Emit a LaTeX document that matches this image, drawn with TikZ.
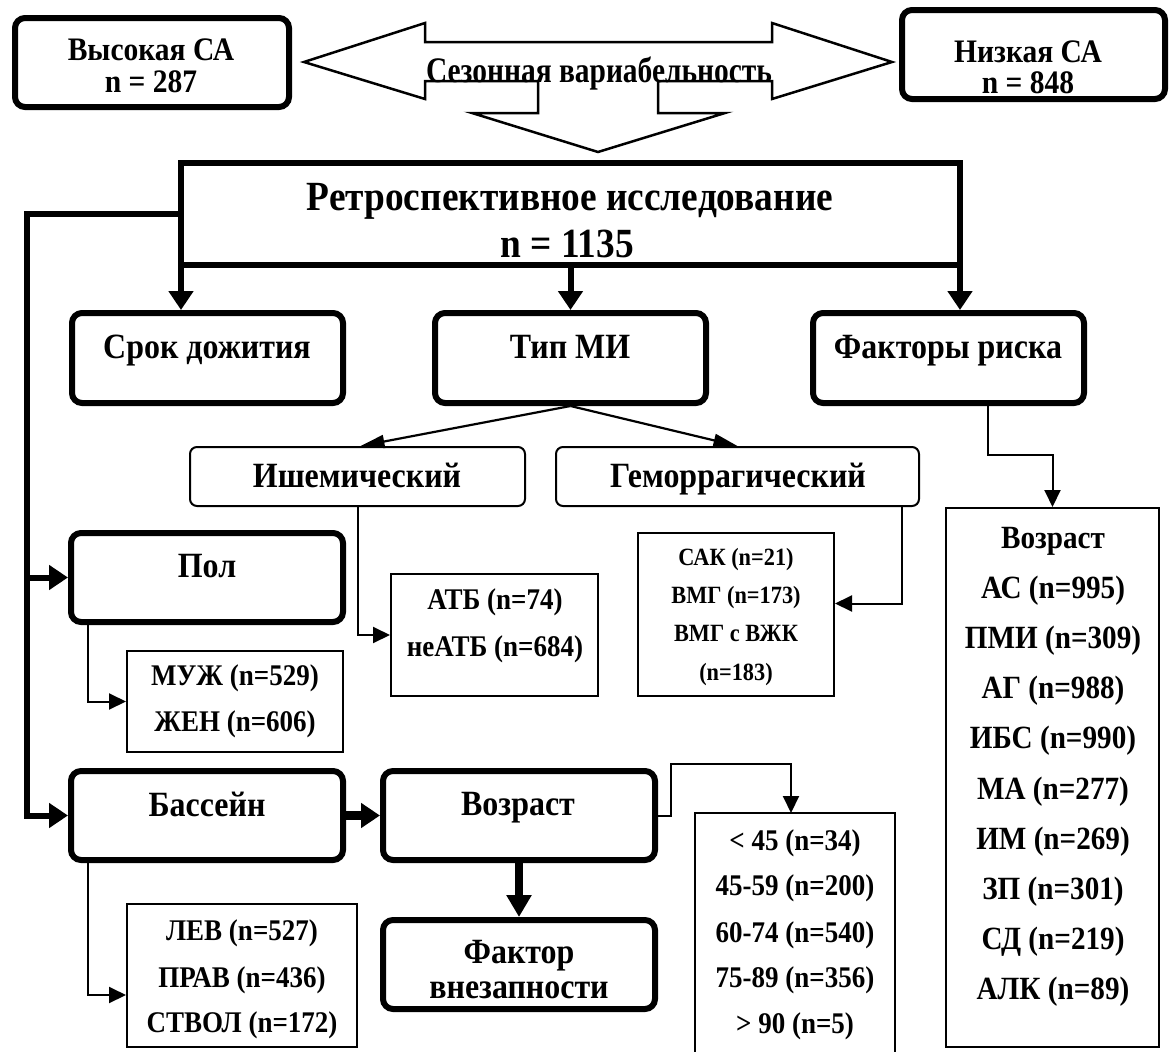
\documentclass[tikz,border=0pt]{standalone}
\usepackage{fontspec}
\setmainfont[FakeStretch=0.9]{Liberation Serif}
\newfontfamily\condfont[FakeStretch=0.82]{Liberation Serif}
\usetikzlibrary{arrows.meta,fit}
\newcommand{\fsz}[1]{\fontsize{#1}{#1}\selectfont\bfseries}
\begin{document}
\begin{tikzpicture}[x=1pt,y=-1pt,
  thickbox/.style={draw, line width=6pt, rounded corners=10pt, inner sep=0pt},
  thinround/.style={draw, line width=2pt, rounded corners=7pt, inner sep=0pt},
  thinbox/.style={draw, line width=2pt, inner sep=0pt},
  framebox/.style={inner sep=0pt, outer sep=0pt},
  conn/.style={line width=2pt, -{Triangle[length=17pt,width=16pt]}},
  diag/.style={line width=2.2pt, -{Triangle[length=24pt,width=13pt]}},
  thk/.style={line width=6pt, -{Triangle[length=19pt,width=24pt]}},
  txt/.style={inner sep=0pt, anchor=base},
  tA/.style={txt, font=\fsz{32.8}},
  tS/.style={txt, font=\condfont\fsz{35.9}},
  tR/.style={txt, font=\fsz{41.5}},
  tM/.style={txt, font=\fsz{35.5}},
  tL/.style={txt, font=\fsz{30}},
  tK/.style={txt, font=\fsz{24.8}},
  tC/.style={txt, font=\fsz{32.4}},
]
\useasboundingbox (0,0) rectangle (1176,1052);

% top boxes
\node[thickbox, fit={(15,18) (289,107)}] (high) {};
\node[tA] (highA) at (151,60) {Высокая СА};
\node[tA] (highB) at (151,92) {n = 287};
\node[thickbox, fit={(902,10) (1165,99)}] (low) {};
\node[tA] (lowA) at (1028,62) {Низкая СА};
\node[tA] (lowB) at (1028,93) {n = 848};

% three-way arrow shape
\draw[line width=2.5pt, line join=miter]
  (304,62) -- (425,23) -- (425,42) -- (772,42) -- (772,23) -- (892,62)
  -- (772,99) -- (772,81) -- (658,81) -- (658,113) -- (725,113) -- (598,152)
  -- (472,113) -- (538,113) -- (538,81) -- (425,81) -- (425,99) -- cycle;
\node[tS] (season) at (599,82) {Сезонная вариабельность};

% big box
\node[thickbox, rounded corners=0pt, outer sep=0pt, fit={(181,163) (960,265)}] (big) {};
\node[tR] (bigA) at (570,210) {Ретроспективное исследование};
\node[tR] (bigB) at (567,257) {n = 1135};

% second row
\node[thickbox, fit={(72,313) (343,403)}] (srok) {};
\node[tM] (srokT) at (207,358) {Срок дожития};
\node[thickbox, fit={(435,313) (706,403)}] (tip) {};
\node[tM] (tipT) at (570,358) {Тип МИ};
\node[thickbox, fit={(813,313) (1084,403)}] (fact) {};
\node[tM] (factT) at (948,358) {Факторы риска};

% stroke types
\node[thinround, fit={(190,447) (525,506)}] (ishem) {};
\node[tM] (ishemT) at (357,487) {Ишемический};
\node[thinround, fit={(556,447) (919,506)}] (gem) {};
\node[tM] (gemT) at (738,487) {Геморрагический};

% sex
\node[thickbox, fit={(71,533) (343,622)}] (pol) {};
\node[tM] (polT) at (207,577) {Пол};
\node[thinbox, fit={(127,651) (343,752)}] (muzh) {};
\node[tL] (muzhA) at (235,685) {МУЖ (n=529)};
\node[tL] (muzhB) at (235,731) {ЖЕН (n=606)};

% ATB
\node[thinbox, fit={(391,574) (598,696)}] (atb) {};
\node[tL] (atbA) at (495,609) {АТБ (n=74)};
\node[tL] (atbB) at (495,656) {неАТБ (n=684)};

% SAK
\node[thinbox, fit={(638,533) (834,696)}] (sak) {};
\node[tK] (sakA) at (736,565) {САК (n=21)};
\node[tK] (sakB) at (736,603) {ВМГ (n=173)};
\node[tK] (sakC) at (736,641) {ВМГ с ВЖК};
\node[tK] (sakD) at (736,680) {(n=183)};

% right column
\node[thinbox, fit={(946,508) (1159,1047)}] (rcol) {};
\node[tC] (rc0) at (1053,548) {Возраст};
\node[tC] (rc1) at (1053,598) {АС (n=995)};
\node[tC] (rc2) at (1053,648) {ПМИ (n=309)};
\node[tC] (rc3) at (1053,698) {АГ (n=988)};
\node[tC] (rc4) at (1053,748) {ИБС (n=990)};
\node[tC] (rc5) at (1053,799) {МА (n=277)};
\node[tC] (rc6) at (1053,849) {ИМ (n=269)};
\node[tC] (rc7) at (1053,899) {ЗП (n=301)};
\node[tC] (rc8) at (1053,949) {СД (n=219)};
\node[tC] (rc9) at (1053,999) {АЛК (n=89)};

% bottom rows
\node[thickbox, fit={(71,771) (343,860)}] (bass) {};
\node[tM] (bassT) at (207,816) {Бассейн};
\node[thickbox, fit={(383,771) (655,860)}] (vozr) {};
\node[tM] (vozrT) at (518,815) {Возраст};
\node[thickbox, fit={(383,920) (655,1009)}] (fakt) {};
\node[tM] (faktA) at (519,963) {Фактор};
\node[tM] (faktB) at (519,998) {внезапности};

\node[thinbox, fit={(127,904) (357,1047)}] (lev) {};
\node[tL] (levA) at (242,940) {ЛЕВ (n=527)};
\node[tL] (levB) at (242,987) {ПРАВ (n=436)};
\node[tL] (levC) at (242,1032) {СТВОЛ (n=172)};

\node[framebox, fit={(695,813) (895,1052)}] (age) {};
\draw[line width=2pt] (age.south west) -- (age.north west) -- (age.north east) -- (age.south east);
\node[tL] (ageA) at (795,850) {< 45 (n=34)};
\node[tL] (ageB) at (795,895) {45-59 (n=200)};
\node[tL] (ageC) at (795,942) {60-74 (n=540)};
\node[tL] (ageD) at (795,987) {75-89 (n=356)};
\node[tL] (ageE) at (795,1033) {> 90 (n=5)};

% thick connectors
\draw[thk] (big.south west) -- (big.south west |- srok.north);
\draw[thk] (big.south) -- (tip.north);
\draw[thk] (big.south east) -- (big.south east |- fact.north);
\coordinate (lt) at (27,214);
\coordinate (lb) at (27,815.5);
\draw[thk] (big.west) -- (lt) -- (lb) -- (bass.west);
\draw[thk] (lt |- pol.west) -- (pol.west);
\draw[line width=9pt, -{Triangle[length=19pt,width=24pt]}] (bass.east) -- (vozr.west);
\draw[line width=8pt, -{Triangle[length=22pt,width=24pt]}] (vozr.south) -- (fakt.north);

% thin connectors
\draw[diag] (tip.south) -- ([xshift=3pt]ishem.north);
\draw[diag] (tip.south) -- (gem.north);
\draw[conn] ([xshift=20pt]pol.south west) |- (muzh.west);
\draw[conn] (ishem.south) |- (atb.west);
\draw[conn] ([xshift=-18pt]gem.south east) |- ([yshift=11pt]sak.east);
\draw[conn] ([xshift=39pt]fact.south) -- ++(0,49) -| (rcol.north);
\draw[conn] ([xshift=20pt]bass.south west) |- ([yshift=-19.5pt]lev.west);
\draw[conn] (vozr.east) -- ++(13,0) -- ++(0,-52) -| ([xshift=-4pt]age.north);
\end{tikzpicture}
\end{document}
